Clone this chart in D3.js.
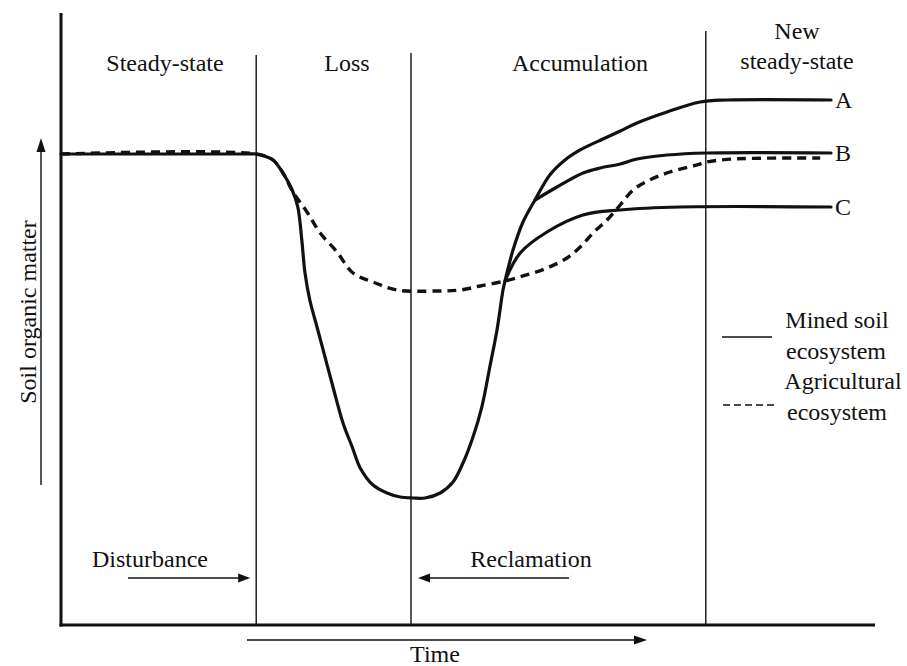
<!DOCTYPE html>
<html>
<head>
<meta charset="utf-8">
<script src="https://cdn.jsdelivr.net/npm/d3@7"></script>
<style>
  html, body { margin: 0; padding: 0; background: #fff; }
  svg { display: block; }
</style>
</head>
<body>
<svg id="chart" width="907" height="666"></svg>
<script>
// ---------------- data (time units, soil organic matter units) ----------------
const phaseNames = ["Steady-state", "Loss", "Accumulation", "New steady-state"];
const phaseBoundaries = [24.4, 43.75, 80.6];          // Disturbance, Reclamation, new steady state
const curveLabels = ["A", "B", "C"];
const legendLabels = [["Mined soil", "ecosystem"], ["Agricultural", "ecosystem"]];
const axisLabels = { x: "Time", y: "Soil organic matter" };
const eventLabels = ["Disturbance", "Reclamation"];

// Mined soil ecosystem, path to new steady-state A
const minedA = [
  [0, 78.5], [22.4, 78.5], [24.4, 78.5], [25.1, 78.3], [26.5, 77.5], [27.75, 75.33],
  [28.9, 72.5], [29.6, 69.67], [30.1, 64.17], [30.5, 58.67], [31.1, 54.17], [32, 49.67],
  [33, 44.67], [34, 39.67], [35.25, 33.67], [36.4, 29.67], [37.4, 26.17], [39, 23.33],
  [40.75, 22], [42.4, 21.33], [44, 21.17], [45.5, 21.17], [47.4, 22], [49, 23.83],
  [50.25, 27], [51.5, 31.33], [52.6, 36.33], [53.6, 43], [54.5, 49.17], [55.25, 55.83],
  [55.5, 57.33], [55.9, 59.5], [56.5, 62.5], [57.75, 67.17], [59.25, 70.83], [61.1, 75],
  [63, 77.5], [64.9, 79.17], [67.75, 81], [69.9, 82.33], [72, 83.67], [75.75, 85.5],
  [79.9, 87.17], [83.25, 87.5], [96.25, 87.5]
];
// branch to steady-state B
const minedB = [
  [59.25, 70.83], [62, 73], [65.25, 75.33], [67.4, 76.17], [69.9, 76.83], [72, 77.67],
  [75.75, 78.33], [80.75, 78.67], [96.25, 78.67]
];
// branch to steady-state C
const minedC = [
  [55.5, 57.33], [57.4, 62], [60.75, 65.5], [65.25, 68.33], [69.9, 69.17], [77.4, 69.67],
  [96.25, 69.67]
];
// Agricultural ecosystem
const agricultural = [
  [0, 78.5], [24.4, 78.5], [26.5, 77.5], [27.75, 75.33], [29, 72.17], [30.75, 68.83],
  [32.4, 65.33], [34.5, 62.17], [36.5, 58.67], [39, 57.17], [42, 55.83], [47, 55.67],
  [49.9, 55.83], [52.4, 56.5], [55.5, 57.33], [57.75, 58.17], [60.75, 59.5], [63.25, 61.17],
  [64.9, 63], [66.5, 65.33], [68.25, 67.5], [69.9, 70], [71.5, 72.5], [73.6, 74.17],
  [76.1, 75.5], [79.5, 76.67], [80.75, 77.17], [84, 77.67], [94.9, 77.83]
];

// ---------------- drawing ----------------
const FONT = '"Liberation Serif", serif';
const svg = d3.select("#chart");
const x = d3.scaleLinear().domain([0, 100]).range([61, 861]);
const y = d3.scaleLinear().domain([0, 100]).range([625, 25]);
const FS = 24;
const INK = "#111";

const line = d3.line().x(d => x(d[0])).y(d => y(d[1])).curve(d3.curveCatmullRom.alpha(0.5));

function addText(g, tx, ty, str, anchor) {
  return g.append("text").attr("x", tx).attr("y", ty)
    .attr("text-anchor", anchor || "middle").attr("font-size", FS)
    .style("font-family", FONT).attr("fill", INK).text(str);
}

function arrowHead(g, tipX, tipY, dir, len, half) {
  let pts;
  if (dir === "right") pts = [[tipX, tipY], [tipX - len, tipY - half], [tipX - len, tipY + half]];
  else if (dir === "left") pts = [[tipX, tipY], [tipX + len, tipY - half], [tipX + len, tipY + half]];
  else pts = [[tipX, tipY], [tipX - half, tipY + len], [tipX + half, tipY + len]];
  g.append("path").attr("d", "M" + pts.map(p => p.join(",")).join("L") + "Z").attr("fill", INK);
}

// phase dividers
const dividerTops = [55, 53, 31];
svg.append("g").selectAll("line").data(phaseBoundaries).join("line")
  .attr("x1", d => x(d)).attr("x2", d => x(d))
  .attr("y1", (d, i) => dividerTops[i]).attr("y2", y(0))
  .attr("stroke", INK).attr("stroke-width", 1.4);

// axes
svg.append("line").attr("x1", x(0)).attr("x2", x(0)).attr("y1", 13).attr("y2", y(0) + 1.5)
  .attr("stroke", INK).attr("stroke-width", 3);
svg.append("line").attr("x1", x(0) - 1.5).attr("x2", x(101.75)).attr("y1", y(0)).attr("y2", y(0))
  .attr("stroke", INK).attr("stroke-width", 3);

// curves
const curves = svg.append("g").attr("fill", "none").attr("stroke", INK)
  .attr("stroke-linejoin", "round");
[minedA, minedB, minedC].forEach(s => {
  curves.append("path").datum(s).attr("d", line).attr("stroke-width", 3.2).attr("stroke-linecap", "round");
});
curves.append("path").datum(agricultural).attr("d", line)
  .attr("stroke-width", 3.4).attr("stroke-dasharray", "9,6");

// A, B, C labels
const ends = [minedA, minedB, minedC].map(s => s[s.length - 1]);
curveLabels.forEach((d, i) => addText(svg, x(ends[i][0]) + 4, y(ends[i][1]) + 8, d, "start"));

// phase headers
const headerX = [165, 347, 580, 797];
phaseNames.slice(0, 3).forEach((d, i) => addText(svg, headerX[i], 71, d));
const nss = phaseNames[3].split(" ");
addText(svg, headerX[3], 39, nss[0]);
addText(svg, headerX[3], 69, nss[1]);

// event labels and arrows
const ev = svg.append("g");
addText(ev, 150, 567, eventLabels[0]);
ev.append("line").attr("x1", 128).attr("x2", 240).attr("y1", 578).attr("y2", 578)
  .attr("stroke", INK).attr("stroke-width", 1.4);
arrowHead(ev, x(phaseBoundaries[0]) - 6, 578, "right", 12, 4.5);

addText(ev, 531, 567, eventLabels[1]);
ev.append("line").attr("x1", 428).attr("x2", 569).attr("y1", 578).attr("y2", 578)
  .attr("stroke", INK).attr("stroke-width", 1.4);
arrowHead(ev, x(phaseBoundaries[1]) + 7, 578, "left", 12, 4.5);

// time axis arrow
ev.append("line").attr("x1", 247).attr("x2", 636).attr("y1", 640).attr("y2", 640)
  .attr("stroke", INK).attr("stroke-width", 1.4);
arrowHead(ev, 647, 640, "right", 13, 4.5);
addText(ev, 435, 662, axisLabels.x);

// y label and arrow
ev.append("line").attr("x1", 41).attr("x2", 41).attr("y1", 150).attr("y2", 485)
  .attr("stroke", INK).attr("stroke-width", 1.4);
arrowHead(ev, 41, 138, "up", 14, 4.5);
addText(ev, 0, 0, axisLabels.y).attr("x", null).attr("y", null)
  .attr("transform", "translate(36,312) rotate(-90)");

// legend
const lg = svg.append("g");
lg.append("line").attr("x1", 722).attr("x2", 772).attr("y1", 337).attr("y2", 337)
  .attr("stroke", INK).attr("stroke-width", 1.5);
lg.append("line").attr("x1", 723).attr("x2", 775).attr("y1", 405).attr("y2", 405)
  .attr("stroke", INK).attr("stroke-width", 1.5).attr("stroke-dasharray", "7,4");
const legendY = [[328, 359], [389, 420]];
const legendX = [[837, 836], [843, 837]];
legendLabels.forEach((pair, i) => {
  pair.forEach((t, j) => addText(lg, legendX[i][j], legendY[i][j], t));
});
</script>
</body>
</html>
